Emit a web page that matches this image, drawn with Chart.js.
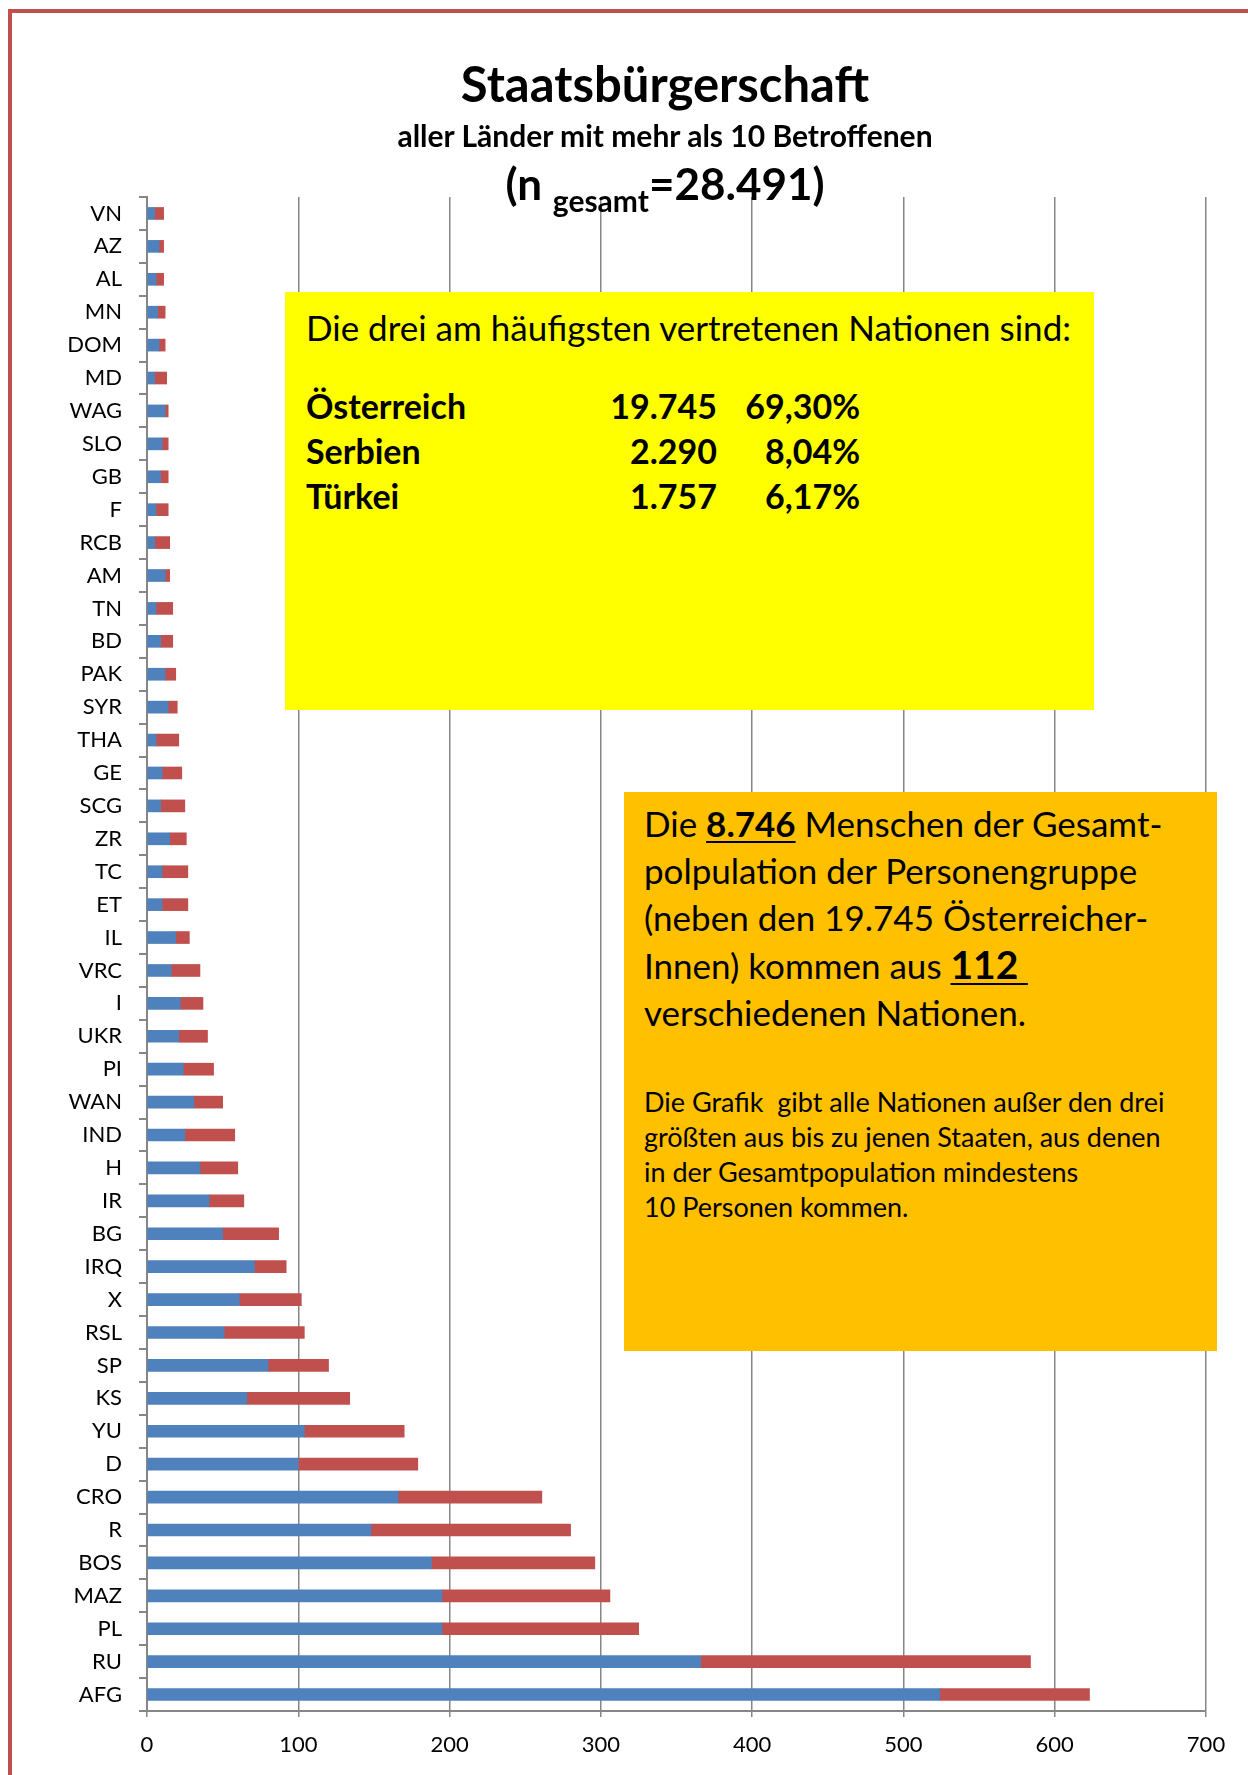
<!DOCTYPE html>
<html lang="de">
<head>
<meta charset="utf-8">
<title>Staatsbürgerschaft</title>
<script src="https://cdn.jsdelivr.net/npm/chart.js@4.4.1/dist/chart.umd.min.js"></script>
<style>
  html, body { margin: 0; padding: 0; background: #fff; }
  body { width: 1248px; height: 1775px; position: relative; overflow: hidden; font-family: Lato, "Open Sans", sans-serif; color: #000; }
  #chart { position: absolute; left: 0; top: 0; }
  .frame { position: absolute; left: 8px; top: 9px; width: 1260px; height: 1800px; border-left: 4px solid #c0504d; border-top: 4px solid #c0504d; box-sizing: border-box; }
  .title { position: absolute; left: 265px; width: 800px; text-align: center; font-weight: bold; white-space: nowrap; }
  .t1 { top: 54px; font-size: 49px; line-height: 58px; }
  .t2 { top: 118px; font-size: 30px; line-height: 34px; }
  .t3 { top: 157px; font-size: 44px; line-height: 52px; }
  .t3 sub { font-size: 30px; vertical-align: -12px; line-height: 0; }
  .yellow { position: absolute; left: 285px; top: 292px; width: 809px; height: 418px; background: #ffff00; box-sizing: border-box; padding: 14px 0 0 21px; }
  .yellow .head { font-size: 35px; line-height: 42px; white-space: nowrap; }
  .yellow .rows { margin-top: 35px; display: grid; grid-template-columns: 260px 151px 143px; font-weight: bold; font-size: 34px; line-height: 45px; }
  .yellow .num { text-align: right; }
  .orange { position: absolute; left: 624px; top: 792px; width: 593px; height: 559px; background: #ffc000; box-sizing: border-box; padding: 8px 0 0 20px; }
  .orange .big { font-size: 35px; line-height: 47px; white-space: nowrap; }
  .orange .big b { text-decoration: underline; text-decoration-thickness: 2px; text-underline-offset: 4px; }
  .orange .big b.n112 { font-size: 39px; }
  .orange .small { margin-top: 48px; font-size: 27px; line-height: 35px; white-space: nowrap; }
</style>
</head>
<body>
<canvas id="chart" width="1248" height="1775"></canvas>

<div class="frame"></div>

<div class="title t1">Staatsbürgerschaft</div>
<div class="title t2">aller Länder mit mehr als 10 Betroffenen</div>
<div class="title t3">(n <sub>gesamt</sub>=28.491)</div>

<div class="yellow">
  <div class="head">Die drei am häufigsten vertretenen Nationen sind:</div>
  <div class="rows">
    <div>Österreich</div><div class="num">19.745</div><div class="num">69,30%</div>
    <div>Serbien</div><div class="num">2.290</div><div class="num">8,04%</div>
    <div>Türkei</div><div class="num">1.757</div><div class="num">6,17%</div>
  </div>
</div>

<div class="orange">
  <div class="big">
    Die <b>8.746</b> Menschen der Gesamt-<br>
    polpulation der Personengruppe<br>
    (neben den 19.745 Österreicher-<br>
    Innen) kommen aus <b class="n112">112&nbsp;</b><br>
    verschiedenen Nationen.
  </div>
  <div class="small">
    Die Grafik&nbsp; gibt alle Nationen außer den drei<br>
    größten aus bis zu jenen Staaten, aus denen<br>
    in der Gesamtpopulation mindestens<br>
    10 Personen kommen.
  </div>
</div>

<script>
// Länder (von oben nach unten)
const countries = [
  "VN", "AZ", "AL", "MN", "DOM", "MD", "WAG", "SLO", "GB", "F",
  "RCB", "AM", "TN", "BD", "PAK", "SYR", "THA", "GE", "SCG", "ZR",
  "TC", "ET", "IL", "VRC", "I", "UKR", "PI", "WAN", "IND", "H",
  "IR", "BG", "IRQ", "X", "RSL", "SP", "KS", "YU", "D", "CRO",
  "R", "BOS", "MAZ", "PL", "RU", "AFG"
];

// blauer Anteil
const seriesBlue = [
  5, 8, 6, 7, 8, 5, 12, 10, 9, 6,
  5, 12, 6, 9, 12, 14, 6, 10, 9, 15,
  10, 10, 19, 16, 22, 21, 24, 31, 25, 35,
  41, 50, 71, 61, 51, 80, 66, 104, 100, 166,
  148, 188, 195, 195, 366, 524
];

// roter Anteil
const seriesRed = [
  6, 3, 5, 5, 4, 8, 2, 4, 5, 8,
  10, 3, 11, 8, 7, 6, 15, 13, 16, 11,
  17, 17, 9, 19, 15, 19, 20, 19, 33, 25,
  23, 37, 21, 41, 53, 40, 68, 66, 79, 95,
  132, 108, 111, 130, 218, 99
];

const xTickValues = [0, 100, 200, 300, 400, 500, 600, 700];

const axisGray = "#868686";
const tickFont = { family: "Lato", size: 22 };

new Chart(document.getElementById("chart").getContext("2d"), {
  type: "bar",
  data: {
    labels: countries,
    datasets: [
      {
        label: "Serie 1",
        data: seriesBlue,
        backgroundColor: "#4f81bd",
        borderWidth: 0,
        barThickness: 12,
      },
      {
        label: "Serie 2",
        data: seriesRed,
        backgroundColor: "#c0504d",
        borderWidth: 0,
        barThickness: 12,
      },
    ],
  },
  options: {
    indexAxis: "y",
    responsive: false,
    animation: false,
    devicePixelRatio: 1,
    layout: { padding: { top: 197, right: 42, left: 0, bottom: 0 } },
    plugins: {
      legend: { display: false },
      tooltip: { enabled: false },
    },
    scales: {
      x: {
        stacked: true,
        min: 0,
        max: 700,
        afterBuildTicks: (scale) => {
          scale.ticks = xTickValues.map((v) => ({ value: v }));
        },
        afterFit: (scale) => {
          scale.height = 64;
        },
        ticks: { color: "#000", font: tickFont, padding: 15, maxRotation: 0 },
        grid: { color: axisGray, lineWidth: 1.5, tickLength: 6 },
        border: { color: axisGray, width: 2 },
      },
      y: {
        stacked: true,
        afterFit: (scale) => {
          scale.width = 147;
        },
        ticks: { color: "#000", font: tickFont, padding: 17, autoSkip: false },
        grid: {
          offset: true,
          drawOnChartArea: false,
          color: axisGray,
          lineWidth: 2,
          tickLength: 8,
        },
        border: { color: axisGray, width: 2 },
      },
    },
  },
});
</script>
</body>
</html>
